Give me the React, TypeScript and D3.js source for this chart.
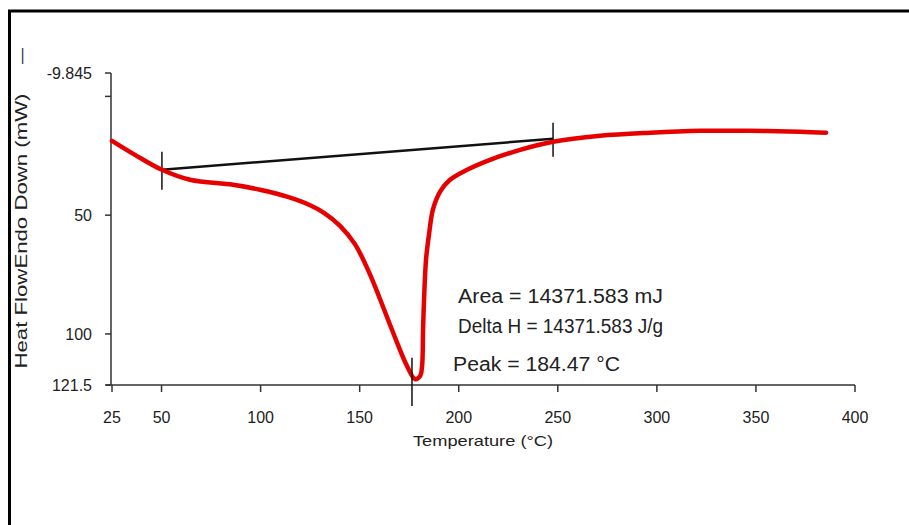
import React from 'react'
import * as d3 from 'd3'

// DSC scan
const temps = [25, 36.6, 50.2, 64.4, 86.1, 99.7, 113.3, 125, 132, 140.1, 147.7, 155.2, 160.3, 166.8, 173.9, 177.9, 180.5, 181.5, 182, 182.5, 183.5, 185, 187, 190.6, 195.6, 204.2, 215.8, 231, 247.6, 271.3, 296.6, 321.8, 347, 372.3, 385.4]
const heatFlow = [18.7, 24.6, 30.9, 35.1, 37.2, 39.3, 42.2, 45.8, 49, 54.5, 62.3, 74.9, 85.4, 99.3, 113.5, 119, 117.7, 113.5, 98, 85.4, 68.6, 58.1, 47.6, 40.1, 35.1, 30.9, 26.7, 22.5, 19.1, 16.6, 15.3, 14.5, 14.5, 14.9, 15.3]

const baseT = [50.2, 247.6]
const baseV = [30.9, 17.85]
const peakT = 176.4

const xTicks = [25, 50, 100, 150, 200, 250, 300, 350, 400]
const yTicks = [-9.845, 0, 50, 100, 121.5]
const yTickLabels = ['-9.845', '', '50', '100', '121.5']

const notes = ['Area = 14371.583 mJ', 'Delta H = 14371.583 J/g', 'Peak = 184.47 °C']

const App = () => {
  const font = "'Liberation Sans', Arial, sans-serif"
  const axisColor = '#333'

  const x = d3.scaleLinear().domain([25, 400]).range([112, 855])
  const y = d3.scaleLinear().domain([-9.845, 121.5]).range([73, 385])

  const pts: [number, number][] = temps.map((t, i) => [t, heatFlow[i]])
  const line = d3.line<[number, number]>()
    .x(d => x(d[0]))
    .y(d => y(d[1]))
    .curve(d3.curveCatmullRom.alpha(0.5))

  const bx0 = x(baseT[0]), by0 = y(baseV[0])
  const bx1 = x(baseT[1]), by1 = y(baseV[1])

  return (
    <svg width={909} height={525} style={{ position: 'absolute', left: 0, top: 0, background: '#fff' }} fontFamily={font}>
      {/* page frame */}
      <path d="M9.5,525 V11 H909" fill="none" stroke="#000" strokeWidth={3} />

      {/* y axis */}
      <g>
        <line x1={x(25) - 1} x2={x(25) - 1} y1={y(-9.845)} y2={y(121.5)} stroke={axisColor} strokeWidth={1.5} />
        {yTicks.map((v, i) => (
          <g key={i} transform={`translate(${x(25) - 1},${y(v)})`}>
            <line x2={-6} stroke={axisColor} strokeWidth={1.5} />
            <text x={-19} dy="0.35em" textAnchor="end" fontSize={16} fill="#222">{yTickLabels[i]}</text>
          </g>
        ))}
        <text transform={`translate(27,${(y(-9.845) + y(121.5)) / 2 + 2}) rotate(-90)`} textAnchor="middle"
          fontSize={16} fill="#222" textLength={275} lengthAdjust="spacingAndGlyphs">Heat FlowEndo Down (mW)</text>
        <text transform="translate(27,56) rotate(-90)" textAnchor="middle" fontSize={16} fill="#222">—</text>
      </g>

      {/* x axis */}
      <g>
        <line x1={x(25) - 6} x2={x(400)} y1={y(121.5)} y2={y(121.5)} stroke={axisColor} strokeWidth={1.5} />
        {xTicks.map(t => (
          <g key={t} transform={`translate(${x(t)},${y(121.5)})`}>
            <line y2={7} stroke={axisColor} strokeWidth={1.5} />
            <text y={38} textAnchor="middle" fontSize={16} fill="#222">{t}</text>
          </g>
        ))}
        <text x={483} y={446} textAnchor="middle" fontSize={15} fill="#222" textLength={140} lengthAdjust="spacingAndGlyphs">Temperature (°C)</text>
      </g>

      {/* baseline */}
      <line x1={bx0} y1={by0} x2={bx1} y2={by1} stroke="#111" strokeWidth={2.5} />
      <line x1={bx0} x2={bx0} y1={by0 - 18} y2={by0 + 20} stroke="#111" strokeWidth={1.5} />
      <line x1={bx1} x2={bx1} y1={by1 - 16} y2={by1 + 18} stroke="#111" strokeWidth={1.5} />

      {/* curve */}
      <path d={line(pts) ?? ''} fill="none" stroke="#e60000" strokeWidth={4.5} strokeLinejoin="round" strokeLinecap="round" />

      {/* peak marker */}
      <line x1={x(peakT)} x2={x(peakT)} y1={y(110)} y2={y(121.5) + 21} stroke="#111" strokeWidth={1.5} />

      {/* annotations */}
      <text x={458} y={303} fontSize={20} fill="#222" textLength={205} lengthAdjust="spacingAndGlyphs">{notes[0]}</text>
      <text x={458} y={333} fontSize={20} fill="#222" textLength={205} lengthAdjust="spacingAndGlyphs">{notes[1]}</text>
      <text x={453} y={371} fontSize={20} fill="#222" textLength={167} lengthAdjust="spacingAndGlyphs">{notes[2]}</text>
    </svg>
  )
}

export default App
